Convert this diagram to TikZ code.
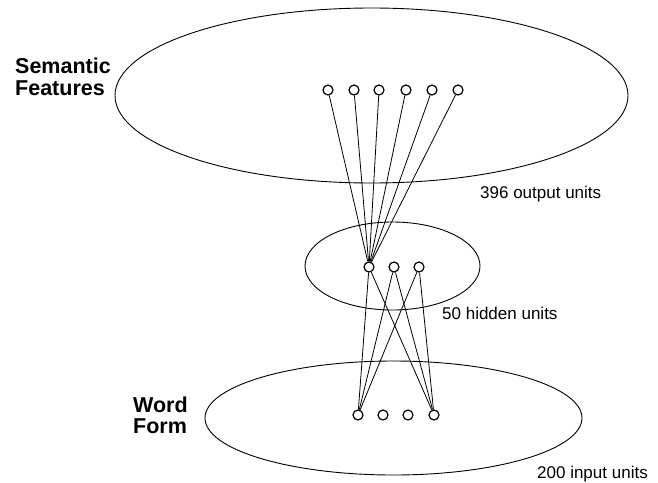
\documentclass[tikz,border=0pt]{standalone}
\usepackage{fontspec}
\setmainfont{Liberation Sans}
\begin{document}
\begin{tikzpicture}[x=1pt,y=-1pt,
  layer/.style={draw=black,line width=0.9pt},
  unit/.style={circle,draw=black,line width=1.2pt,fill=white,minimum size=10pt,inner sep=0pt},
  link/.style={draw=black,line width=0.8pt},
  title/.style={font=\fontsize{21.5}{24}\selectfont\bfseries,anchor=base west,inner sep=0pt},
  lbl/.style={font=\fontsize{17}{19}\selectfont,anchor=base west,inner sep=0pt}]
\useasboundingbox (0,0) rectangle (658,482);
% layers
\draw[layer] (371.5,95.5) ellipse [x radius=256.5, y radius=87.5];
\draw[layer] (392.5,266) ellipse [x radius=87.5, y radius=44];
\draw[layer] (393.5,418) ellipse [x radius=188.5, y radius=57];
% units
\foreach \i/\x in {1/328,2/354,3/379,4/406,5/432,6/458}
  \node[unit] (o\i) at (\x,90) {};
\foreach \i/\x in {1/369,2/394,3/419}
  \node[unit] (h\i) at (\x,267) {};
\foreach \i/\x in {1/358,2/383,3/408,4/434}
  \node[unit] (in\i) at (\x,415) {};
% connections
\foreach \i in {1,...,6}
  \draw[link] (o\i) -- (h1);
\foreach \j in {1,2,3}{
  \draw[link] (h\j) -- (in1);
  \draw[link] (h\j) -- (in4);
}
% labels
\node[title] (sem1) at (15,73) {Semantic};
\node[title] (sem2) at (15,95) {Features};
\node[title] (wf1) at (133,412) {Word};
\node[title] (wf2) at (133,433) {Form};
\node[lbl] (outl) at (480,198) {396 output units};
\node[lbl] (hidl) at (442,319) {50 hidden units};
\node[lbl] (inl) at (537,478) {200 input units};
\end{tikzpicture}
\end{document}
